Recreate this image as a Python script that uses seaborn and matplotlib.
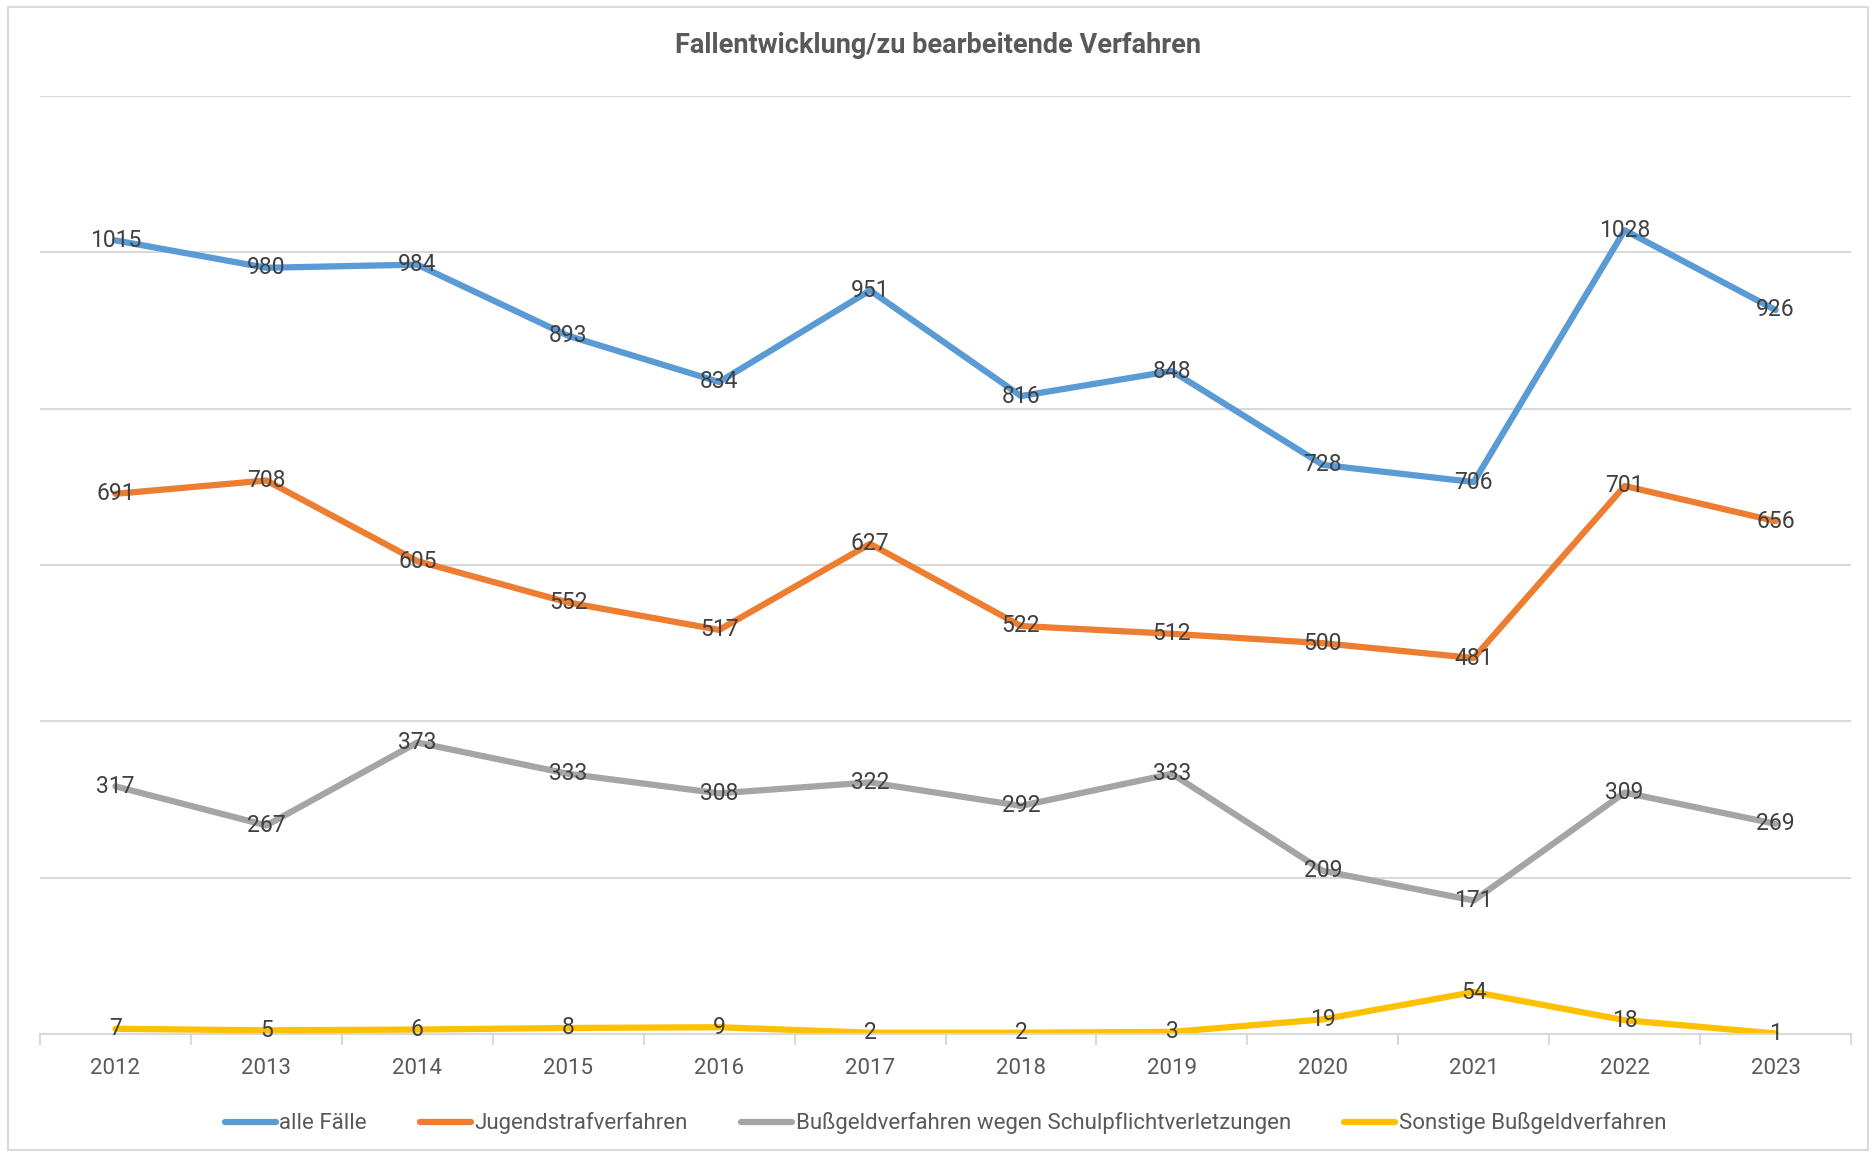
import matplotlib
matplotlib.use("Agg")
import matplotlib.pyplot as plt
import pandas as pd
import seaborn as sns
from matplotlib.patches import Rectangle

# data
YEARS = [2012, 2013, 2014, 2015, 2016, 2017, 2018, 2019, 2020, 2021, 2022, 2023]
ALLE_FAELLE = [1015, 980, 984, 893, 834, 951, 816, 848, 728, 706, 1028, 926]
JUGENDSTRAF = [691, 708, 605, 552, 517, 627, 522, 512, 500, 481, 701, 656]
SCHULPFLICHT = [317, 267, 373, 333, 308, 322, 292, 333, 209, 171, 309, 269]
SONSTIGE = [7, 5, 6, 8, 9, 2, 2, 3, 19, 54, 18, 1]

SERIES = ["alle Fälle", "Jugendstrafverfahren",
          "Bußgeldverfahren wegen Schulpflichtverletzungen",
          "Sonstige Bußgeldverfahren"]
COLORS = ["#5B9BD5", "#ED7D31", "#A5A5A5", "#FFC000"]
TITLE = "Fallentwicklung/zu bearbeitende Verfahren"

TEXT_COLOR = "#595959"
FONT = ["Roboto", "DejaVu Sans"]

sns.set_theme(style="white")
plt.rcParams["font.family"] = FONT

rows = []
for name, vals in zip(SERIES, [ALLE_FAELLE, JUGENDSTRAF, SCHULPFLICHT, SONSTIGE]):
    for i, (yr, v) in enumerate(zip(YEARS, vals)):
        rows.append({"idx": i, "Jahr": yr, "Wert": v, "Serie": name})
df = pd.DataFrame(rows)

fig = plt.figure(figsize=(18.76, 11.53), dpi=100)
ax = fig.add_axes([0.0213, 0.103, 0.9654, 0.814])

sns.lineplot(data=df, x="idx", y="Wert", hue="Serie", hue_order=SERIES,
             palette=COLORS, linewidth=4.5, ax=ax, legend=True,
             solid_capstyle="round", solid_joinstyle="round")

# data labels, centred on the points
for _, r in df.iterrows():
    ax.text(r["idx"], r["Wert"], str(r["Wert"]), ha="center", va="center",
            fontsize=16.5, color="#404040", zorder=5)

ax.set_xlim(-0.5, len(YEARS) - 0.5)
ax.set_ylim(0, 1200)
ax.set_yticks(range(0, 1201, 200))
ax.yaxis.grid(True, color="#D9D9D9", linewidth=1.5)
ax.set_axisbelow(True)
ax.tick_params(axis="y", left=False, labelleft=False)

ax.set_xticks(range(len(YEARS)))
ax.set_xticklabels([str(y) for y in YEARS], fontsize=16, color=TEXT_COLOR)
ax.set_xticks([i - 0.5 for i in range(len(YEARS) + 1)], minor=True)
ax.tick_params(axis="x", which="major", length=0, pad=17)
ax.tick_params(axis="x", which="minor", length=8, width=1.5, color="#D9D9D9",
               direction="out", bottom=True)

for s in ["top", "right", "left"]:
    ax.spines[s].set_visible(False)
ax.spines["bottom"].set_color("#D9D9D9")
ax.spines["bottom"].set_linewidth(1.5)

ax.set_xlabel("")
ax.set_ylabel("")

leg = ax.legend(loc="upper center", bbox_to_anchor=(0.5, -0.062), ncol=4,
                frameon=False, fontsize=16, handlelength=2.3,
                columnspacing=2.4, handletextpad=0.15)
for t in leg.get_texts():
    t.set_color(TEXT_COLOR)
for h in leg.get_lines():
    h.set_linewidth(4.5)

fig.text(0.5, 0.9605, TITLE, ha="center", va="center", fontsize=19.5,
         fontweight="bold", color=TEXT_COLOR)

# chart border
fig.patches.append(Rectangle((0.004, 0.003), 0.992, 0.991, transform=fig.transFigure,
                             fill=False, edgecolor="#D9D9D9", linewidth=1.5))

fig.savefig("out.png", dpi=100)
